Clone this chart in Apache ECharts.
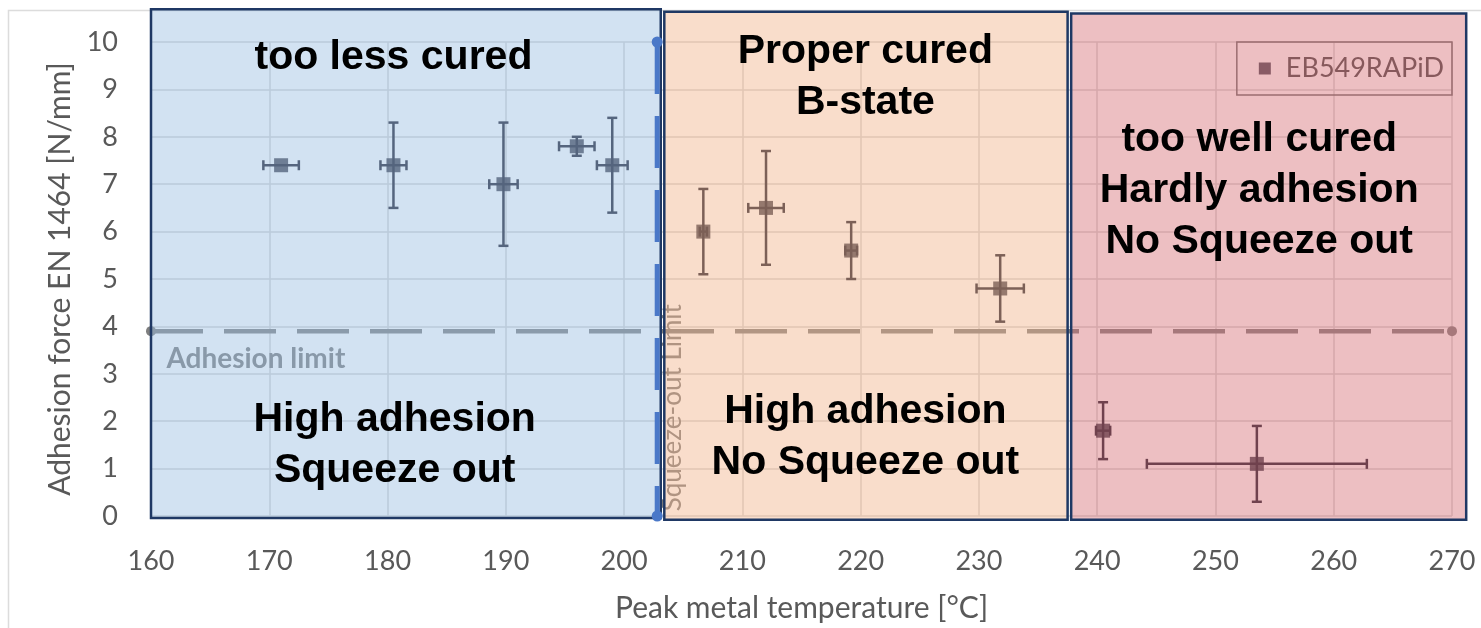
<!DOCTYPE html>
<html style="height: 100%">
<head>
    <meta charset="utf-8">
</head>
<body style="height: 100%; margin: 0; background: #fff">
    <div id="container" style="width: 1481px; height: 628px"></div>
    <script type="text/javascript" src="https://cdn.jsdelivr.net/npm/echarts@6/dist/echarts.min.js"></script>
    <script type="text/javascript">
        // measured points: temperature, adhesion force, x error, y error
        var temps = [171.0, 180.5, 189.8, 196.0, 199.0, 206.7, 212.0, 219.2, 231.8, 240.5, 253.5];
        var forces = [7.4, 7.4, 7.0, 7.8, 7.4, 6.0, 6.5, 5.6, 4.8, 1.8, 1.1];
        var tempErr = [1.5, 1.1, 1.2, 1.5, 1.3, 0.3, 1.5, 0.5, 2.0, 0.6, 9.3];
        var forceErr = [0, 0.9, 1.3, 0.2, 1.0, 0.9, 1.2, 0.6, 0.7, 0.6, 0.8];

        var adhesionLimit = 3.9;
        var squeezeLimit = 202.8;

        // shaded regions (temperature from / to, force from / to)
        var regionFrom = [160, 203.4, 237.8];
        var regionTo = [203.1, 237.5, 271.2];
        var regionBottom = [-0.04, -0.08, -0.08];
        var regionTop = [10.69, 10.64, 10.6];
        var regionColors = ['rgba(155,191,227,0.45)', 'rgba(242,180,140,0.45)', 'rgba(216,113,120,0.45)'];

        // region texts: x, y (centre), text
        var noteX = [180.5, 180.6, 220.4, 220.4, 253.7];
        var noteY = [9.67, 1.49, 9.25, 1.66, 6.86];
        var noteText = ['too less cured', 'High adhesion\nSqueeze out', 'Proper cured\nB-state',
            'High adhesion\nNo Squeeze out', 'too well cured\nHardly adhesion\nNo Squeeze out'];

        var dom = document.getElementById("container");
        var myChart = echarts.init(dom);

        var points = temps.map(function(t, i) { return [t, forces[i]]; });
        var bars = temps.map(function(t, i) { return [t, forces[i], tempErr[i], forceErr[i]]; });
        var regions = regionFrom.map(function(x0, i) { return [x0, regionBottom[i], regionTo[i], regionTop[i]]; });
        var notes = noteX.map(function(x, i) { return [x, noteY[i]]; });

        var markColor = '#1c1c2c';
        var labelFont = 'Lato, "Open Sans", sans-serif';

        var option = {
            backgroundColor: '#fff',
            animation: false,
            grid: { left: 151, right: 29, top: 42, bottom: 105 },
            legend: {
                data: [{ name: 'EB549RAPiD', icon: 'rect' }],
                right: 29,
                top: 42,
                padding: [13, 8, 13, 22],
                itemWidth: 12,
                itemHeight: 12,
                borderColor: '#6a6a6a',
                borderWidth: 1.5,
                textStyle: { fontSize: 27, color: '#454545', fontFamily: labelFont, padding: [0, 0, 0, 10] }
            },
            graphic: [{
                type: 'polyline',
                shape: { points: [[8.5, 640], [8.5, 10.5], [1481, 10.5]] },
                style: { stroke: '#dcdcdc', lineWidth: 1.5, fill: null },
                silent: true
            }],
            xAxis: {
                type: 'value',
                min: 160, max: 270, interval: 10,
                name: 'Peak metal temperature [°C]',
                nameLocation: 'middle',
                nameGap: 77,
                nameTextStyle: { fontSize: 30, color: '#595959', fontFamily: labelFont },
                axisLine: { show: false },
                axisTick: { show: false },
                axisLabel: { fontSize: 27, color: '#595959', fontFamily: labelFont, margin: 32 },
                splitLine: { show: true, lineStyle: { color: '#d4d4d4', width: 1.5 } }
            },
            yAxis: {
                type: 'value',
                min: 0, max: 10, interval: 1,
                name: 'Adhesion force EN 1464 [N/mm]',
                nameLocation: 'middle',
                nameGap: 76,
                nameTextStyle: { fontSize: 30, color: '#595959', fontFamily: labelFont },
                axisLine: { show: false },
                axisTick: { show: false },
                axisLabel: { fontSize: 27, color: '#595959', fontFamily: labelFont, margin: 33 },
                splitLine: { show: true, lineStyle: { color: '#d4d4d4', width: 1.5 } }
            },
            series: [{
                // adhesion limit
                type: 'line',
                data: [[160, adhesionLimit], [270, adhesionLimit]],
                symbol: 'circle',
                symbolSize: 10,
                itemStyle: { color: '#7f7f7f' },
                lineStyle: { color: '#7f7f7f', width: 4.5, type: [52, 21] },
                silent: true,
                z: 3
            }, {
                // squeeze-out limit
                type: 'line',
                data: [[squeezeLimit, 10], [squeezeLimit, 0]],
                symbol: 'circle',
                symbolSize: 11,
                itemStyle: { color: '#4a78c8' },
                lineStyle: { color: '#4a78c8', width: 5, type: [52, 22] },
                silent: true,
                z: 25
            }, {
                // error bars
                type: 'custom',
                data: bars,
                silent: true,
                z: 4,
                renderItem: function(params, api) {
                    var x = api.value(0), y = api.value(1), dx = api.value(2), dy = api.value(3);
                    var c = api.coord([x, y]);
                    var l = api.coord([x - dx, y]), r = api.coord([x + dx, y]);
                    var t = api.coord([x, y + dy]), b = api.coord([x, y - dy]);
                    var st = { stroke: markColor, lineWidth: 2.5 };
                    var cap = 5;
                    var children = [];
                    if (dx > 0) {
                        children.push({ type: 'line', shape: { x1: l[0], y1: c[1], x2: r[0], y2: c[1] }, style: st });
                        children.push({ type: 'line', shape: { x1: l[0], y1: c[1] - cap, x2: l[0], y2: c[1] + cap }, style: st });
                        children.push({ type: 'line', shape: { x1: r[0], y1: c[1] - cap, x2: r[0], y2: c[1] + cap }, style: st });
                    }
                    if (dy > 0) {
                        children.push({ type: 'line', shape: { x1: c[0], y1: t[1], x2: c[0], y2: b[1] }, style: st });
                        children.push({ type: 'line', shape: { x1: c[0] - cap, y1: t[1], x2: c[0] + cap, y2: t[1] }, style: st });
                        children.push({ type: 'line', shape: { x1: c[0] - cap, y1: b[1], x2: c[0] + cap, y2: b[1] }, style: st });
                    }
                    return { type: 'group', children: children };
                }
            }, {
                name: 'EB549RAPiD',
                type: 'scatter',
                data: points,
                symbol: 'rect',
                symbolSize: 14,
                itemStyle: { color: markColor },
                z: 5
            }, {
                // limit labels
                type: 'custom',
                data: [[161.3, 3.31], [204.1, 0.1]],
                silent: true,
                z: 6,
                renderItem: function(params, api) {
                    var p = api.coord([api.value(0), api.value(1)]);
                    if (params.dataIndex === 0) {
                        return {
                            type: 'text', x: p[0], y: p[1],
                            style: { text: 'Adhesion limit', fill: '#7a7a7a', font: 'bold 28px ' + labelFont, align: 'left', verticalAlign: 'middle' }
                        };
                    }
                    return {
                        type: 'text', x: p[0], y: p[1], rotation: Math.PI / 2,
                        style: { text: 'Squeeze-out Limit', fill: '#7a7a7a', font: '26px ' + labelFont, align: 'left', verticalAlign: 'middle' }
                    };
                }
            }, {
                // shaded regions
                type: 'custom',
                data: regions,
                silent: true,
                z: 20,
                renderItem: function(params, api) {
                    var a = api.coord([api.value(0), api.value(3)]);
                    var b = api.coord([api.value(2), api.value(1)]);
                    return {
                        type: 'rect',
                        shape: { x: a[0], y: a[1], width: b[0] - a[0], height: b[1] - a[1] },
                        style: { fill: regionColors[params.dataIndex], stroke: '#1f3864', lineWidth: 2.5 }
                    };
                }
            }, {
                // region texts
                type: 'custom',
                data: notes,
                silent: true,
                z: 30,
                renderItem: function(params, api) {
                    var p = api.coord([api.value(0), api.value(1)]);
                    return {
                        type: 'text', x: p[0], y: p[1],
                        style: {
                            text: noteText[params.dataIndex],
                            fill: '#000',
                            font: 'bold 41px "Liberation Sans", Arial, sans-serif',
                            lineHeight: 51,
                            align: 'center',
                            verticalAlign: 'middle'
                        }
                    };
                }
            }]
        };

        myChart.setOption(option);
    </script>
</body>
</html>
